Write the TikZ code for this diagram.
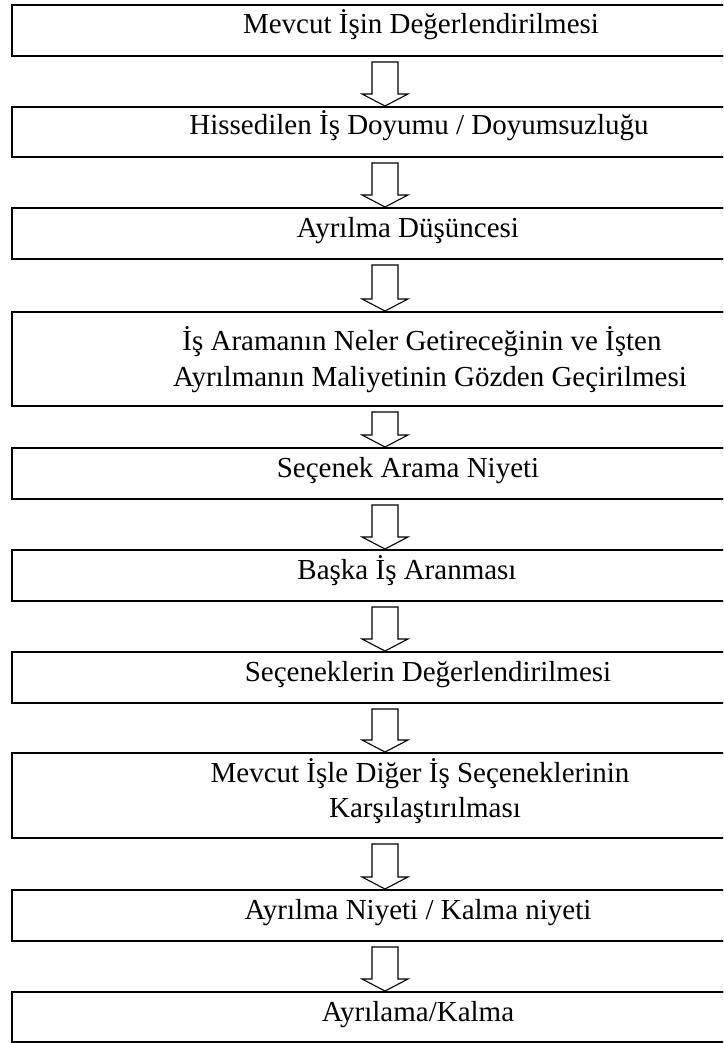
\documentclass[tikz,border=0pt]{standalone}
\usepackage{fontspec}
\setmainfont{Liberation Serif}
\usetikzlibrary{calc}
\tikzset{
  box/.style={draw, line width=1.1pt, outer sep=0pt, inner sep=0pt, anchor=north west, minimum width=370pt},
  lbl/.style={font=\fontsize{14.5}{17}\selectfont, inner sep=0pt, anchor=base},
  barrow/.style={draw, line width=0.55pt, fill=white, line join=miter}
}
\newcommand\blockarrow[2]{%
  \path[barrow] let \p1=(#1.south), \p2=(#2.north) in
    (186pt,\y1-3pt) -- (186pt,\y2+6.5pt) -- (181pt,\y2+6.5pt) -- (192.5pt,\y2+0.5pt)
    -- (204pt,\y2+6.5pt) -- (199pt,\y2+6.5pt) -- (199pt,\y1-3pt) -- cycle;}
\begin{document}
\begin{tikzpicture}[x=0.5pt,y=-0.5pt]
\useasboundingbox (0,0) rectangle (723,1043);
\clip (0,0) rectangle (723,1043);
\fill[white] (0,0) rectangle (723,1043);
\node[box, minimum height=25.5pt] (b1) at (12,5) {};
\node[box, minimum height=25pt] (b2) at (12,107) {};
\node[box, minimum height=25.5pt] (b3) at (12,208) {};
\node[box, minimum height=47pt] (b4) at (12,312) {};
\node[box, minimum height=25.5pt] (b5) at (12,448) {};
\node[box, minimum height=25.5pt] (b6) at (12,550) {};
\node[box, minimum height=25.5pt] (b7) at (12,652) {};
\node[box, minimum height=42.5pt] (b8) at (12,753) {};
\node[box, minimum height=25.5pt] (b9) at (12,890) {};
\node[box, minimum height=25pt] (b10) at (12,992) {};

\node[lbl] (t1) at (421,34) {Mevcut İşin Değerlendirilmesi};
\node[lbl] (t2) at (419,135) {Hissedilen İş Doyumu / Doyumsuzluğu};
\node[lbl] (t3) at (408,237) {Ayrılma Düşüncesi};
\node[lbl] (t4a) at (422,350) {İş Aramanın Neler Getireceğinin ve İşten};
\node[lbl] (t4b) at (430,386) {Ayrılmanın Maliyetinin Gözden Geçirilmesi};
\node[lbl] (t5) at (408,477) {Seçenek Arama Niyeti};
\node[lbl] (t6) at (407,579) {Başka İş Aranması};
\node[lbl] (t7) at (428,681) {Seçeneklerin Değerlendirilmesi};
\node[lbl] (t8a) at (420,782) {Mevcut İşle Diğer İş Seçeneklerinin};
\node[lbl] (t8b) at (425,817) {Karşılaştırılması};
\node[lbl] (t9) at (418,919) {Ayrılma Niyeti / Kalma niyeti};
\node[lbl] (t10) at (418,1021) {Ayrılama/Kalma};

\blockarrow{b1}{b2}
\blockarrow{b2}{b3}
\blockarrow{b3}{b4}
\blockarrow{b4}{b5}
\blockarrow{b5}{b6}
\blockarrow{b6}{b7}
\blockarrow{b7}{b8}
\blockarrow{b8}{b9}
\blockarrow{b9}{b10}
\end{tikzpicture}
\end{document}
